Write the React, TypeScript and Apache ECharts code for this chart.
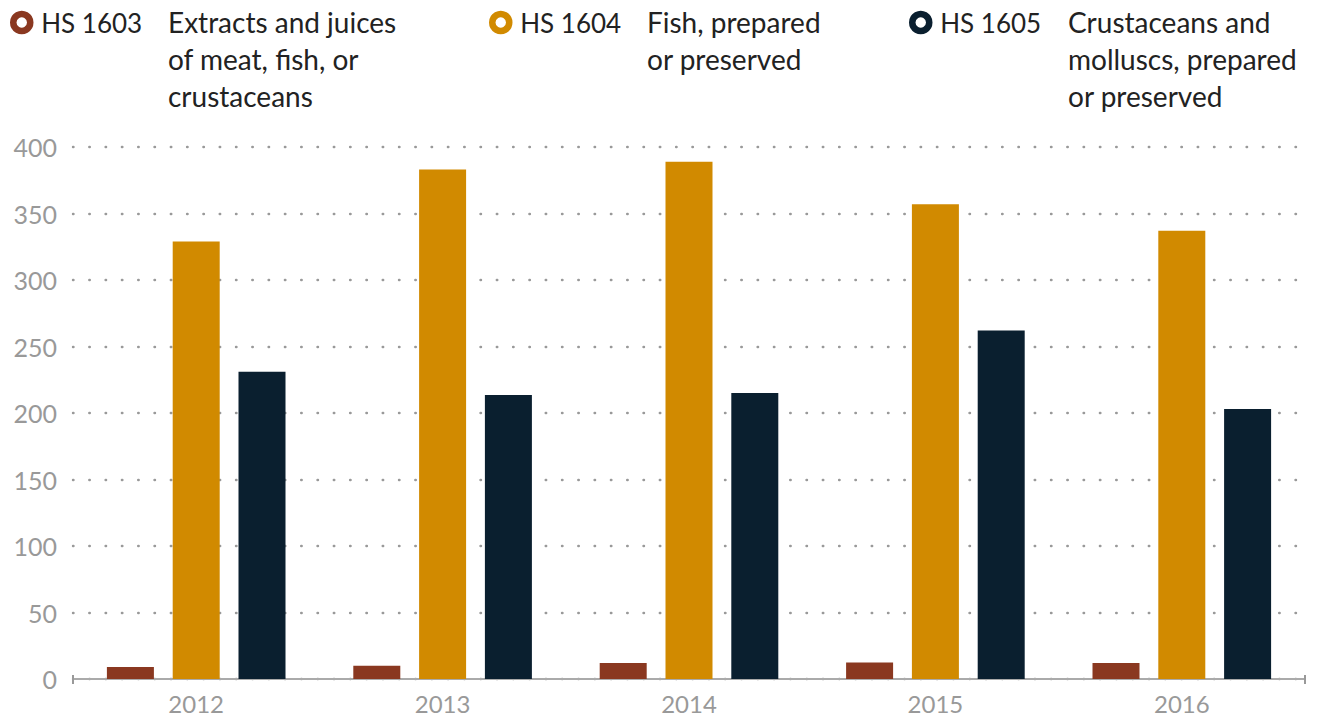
import React, { useEffect, useRef } from "react";
import * as echarts from "echarts";

// Years on the category axis
const years = ["2012", "2013", "2014", "2015", "2016"];

// Values per HS heading
const hs1603 = [9, 10, 12, 12.5, 12];
const hs1604 = [329, 383, 389, 357, 337];
const hs1605 = [231, 213.5, 215, 262, 203];

// Legend entries: code, description lines
const codes = ["HS 1603", "HS 1604", "HS 1605"];
const descriptions = [
  ["Extracts and juices", "of meat, fish, or", "crustaceans"],
  ["Fish, prepared", "or preserved"],
  ["Crustaceans and", "molluscs, prepared", "or preserved"],
];
const colors = ["#8a3820", "#d18a00", "#0a1f2f"];

const FONT = "Lato, 'Open Sans', sans-serif";

export default function App() {
  const ref = useRef<HTMLDivElement>(null);

  useEffect(() => {
    if (!ref.current) return;
    const chart = echarts.init(ref.current, undefined, { renderer: "svg" });

    const values = [hs1603, hs1604, hs1605];
    const legendLeft = [10, 489, 909];
    const descLeft = [168, 647, 1068];

    const endTicksOnly = (index: number) => index === 0;

    chart.setOption({
      animation: false,
      textStyle: { fontFamily: FONT },
      grid: { left: 73, right: 15, top: 147, bottom: 39, containLabel: false },
      legend: codes.map((c, i) => ({
        data: [c],
        left: legendLeft[i],
        top: 4,
        padding: 0,
        icon: "circle",
        itemWidth: 17,
        itemHeight: 17,
        selectedMode: false,
        itemStyle: { color: "#ffffff", borderColor: colors[i], borderWidth: 6.5 },
        textStyle: {
          fontFamily: FONT,
          fontSize: 26,
          color: "#222222",
          lineHeight: 37,
          padding: [0, 0, 0, 6],
        },
      })),
      graphic: descriptions.map((lines, i) => ({
        type: "text",
        left: descLeft[i],
        top: 3,
        style: {
          text: lines.join("\n"),
          font: `28px ${FONT}`,
          lineHeight: 37,
          fill: "#222222",
        },
      })),
      xAxis: [
        {
          type: "category",
          data: years,
          position: "bottom",
          axisLine: { show: true, lineStyle: { color: "#aaaaaa", width: 2 } },
          axisTick: {
            show: true,
            interval: endTicksOnly,
            length: 5,
            lineStyle: { color: "#999999", width: 2 },
          },
          axisLabel: { color: "#999999", fontSize: 24, fontFamily: FONT, margin: 12 },
        },
        {
          type: "category",
          data: years,
          position: "bottom",
          axisLine: { show: false },
          axisTick: {
            show: true,
            inside: true,
            interval: endTicksOnly,
            length: 4,
            lineStyle: { color: "#999999", width: 2 },
          },
          axisLabel: { show: false },
        },
      ],
      yAxis: {
        type: "value",
        min: 0,
        max: 400,
        interval: 50,
        axisLine: { show: false },
        axisTick: { show: false },
        axisLabel: { color: "#999999", fontSize: 25, fontFamily: FONT, margin: 16 },
        splitLine: {
          show: true,
          lineStyle: { color: "#999999", width: 2.4, type: [0.5, 15.8], cap: "round" },
        },
      },
      series: codes.map((c, i) => ({
        name: c,
        type: "bar",
        xAxisIndex: 0,
        data: values[i],
        barWidth: 47,
        barGap: "40%",
        itemStyle: { color: colors[i] },
      })),
    });

    return () => chart.dispose();
  }, []);

  return (
    <div
      ref={ref}
      style={{ position: "absolute", left: 0, top: 0, width: 1320, height: 718 }}
    />
  );
}
